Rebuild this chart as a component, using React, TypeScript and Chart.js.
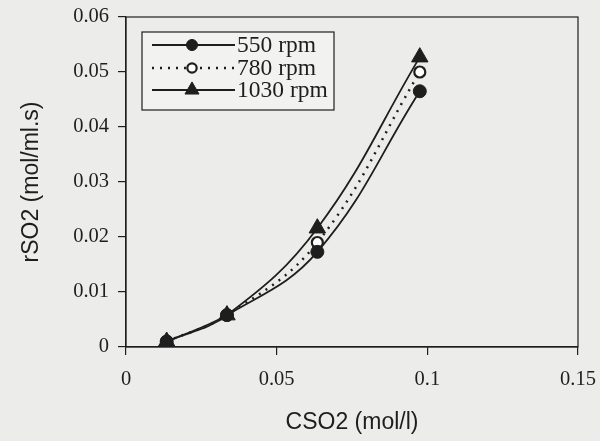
import React, { useEffect, useRef } from "react";
import { Chart, registerables } from "chart.js";

Chart.register(...registerables);

const concentration = [0.0135, 0.0335, 0.0635, 0.0975];
const rate550 = [0.001, 0.0058, 0.0173, 0.0465];
const rate780 = [0.001, 0.0058, 0.019, 0.05];
const rate1030 = [0.001, 0.0058, 0.0216, 0.0527];
const seriesNames = ["550 rpm", "780 rpm", "1030 rpm"];
const xTickLabels = ["0", "0.05", "0.1", "0.15"];
const yTickLabels = ["0", "0.01", "0.02", "0.03", "0.04", "0.05", "0.06"];

const INK = "#1e1e1e";
const BG = "#ececea";

const toPoints = (ys: number[]) => ys.map((y, i) => ({ x: concentration[i], y }));

const bgPlugin = {
  id: "bg",
  beforeDraw(chart: any) {
    const { ctx, width, height } = chart;
    ctx.save();
    ctx.fillStyle = BG;
    ctx.fillRect(0, 0, width, height);
    ctx.restore();
  },
};

const framePlugin = {
  id: "frame",
  afterDraw(chart: any) {
    const { ctx, chartArea } = chart;
    ctx.save();
    ctx.strokeStyle = INK;
    ctx.lineWidth = 1.2;
    ctx.strokeRect(chartArea.left, chartArea.top, chartArea.right - chartArea.left, chartArea.bottom - chartArea.top);
    ctx.restore();
  },
};

const legendPlugin = {
  id: "customLegend",
  afterDraw(chart: any) {
    const { ctx } = chart;
    const left = 142, top = 32, w = 192, h = 78;
    ctx.save();
    ctx.fillStyle = "#f2f2f0";
    ctx.fillRect(left, top, w, h);
    ctx.strokeStyle = INK;
    ctx.lineWidth = 1.2;
    ctx.strokeRect(left, top, w, h);
    const rows = [45, 68, 90];
    chart.data.datasets.forEach((ds: any, i: number) => {
      const y = rows[i];
      ctx.strokeStyle = INK;
      ctx.lineWidth = ds.borderWidth;
      ctx.setLineDash(ds.borderDash || []);
      ctx.beginPath();
      ctx.moveTo(152, y);
      ctx.lineTo(235, y);
      ctx.stroke();
      ctx.setLineDash([]);
      ctx.fillStyle = ds.pointBackgroundColor;
      ctx.strokeStyle = INK;
      ctx.lineWidth = ds.pointBorderWidth;
      ctx.beginPath();
      const r = ds.pointRadius * 0.85;
      if (ds.pointStyle === "triangle") {
        ctx.moveTo(192, y - r);
        ctx.lineTo(192 + r * 0.87, y + r * 0.5);
        ctx.lineTo(192 - r * 0.87, y + r * 0.5);
        ctx.closePath();
      } else {
        ctx.arc(192, y, r, 0, Math.PI * 2);
      }
      ctx.fill();
      ctx.stroke();
      ctx.fillStyle = INK;
      ctx.font = "23.5px 'Liberation Serif', 'Times New Roman', serif";
      ctx.textBaseline = "middle";
      ctx.textAlign = "left";
      ctx.fillText(ds.label, 237, y + 1);
    });
    ctx.restore();
  },
};

export default function App() {
  const ref = useRef<HTMLCanvasElement | null>(null);

  useEffect(() => {
    document.body.style.margin = "0";
    const canvas = ref.current;
    if (!canvas) return;
    const serif = { family: "'Liberation Serif', 'Times New Roman', serif", size: 20.5 };
    const sans = { family: "'Liberation Sans', Arial, sans-serif", size: 23 };
    const chart = new Chart(canvas, {
      type: "line",
      data: {
        datasets: [
          {
            label: seriesNames[0],
            data: toPoints(rate550),
            borderColor: INK,
            borderWidth: 1.8,
            pointStyle: "circle",
            pointRadius: 6.5,
            pointBackgroundColor: INK,
            pointBorderColor: INK,
            pointBorderWidth: 1,
            tension: 0.4,
          },
          {
            label: seriesNames[1],
            data: toPoints(rate780),
            borderColor: INK,
            borderWidth: 2.5,
            borderDash: [2, 6],
            pointStyle: "circle",
            pointRadius: 5.5,
            pointBackgroundColor: "#ffffff",
            pointBorderColor: INK,
            pointBorderWidth: 2.2,
            tension: 0.4,
          },
          {
            label: seriesNames[2],
            data: toPoints(rate1030),
            borderColor: INK,
            borderWidth: 1.8,
            pointStyle: "triangle",
            pointRadius: 9.5,
            pointBackgroundColor: INK,
            pointBorderColor: INK,
            pointBorderWidth: 1,
            tension: 0.4,
          },
        ] as any,
      },
      options: {
        animation: false,
        responsive: false,
        maintainAspectRatio: false,
        layout: { padding: { left: 0, top: 17, right: 22, bottom: 0 } },
        plugins: { legend: { display: false }, tooltip: { enabled: false } },
        scales: {
          x: {
            type: "linear",
            min: 0,
            max: 0.15,
            afterFit: (s: any) => {
              s.height = 94;
              s.paddingLeft = 0;
              s.paddingRight = 0;
            },
            afterBuildTicks: (s: any) => {
              s.ticks = xTickLabels.map((t) => ({ value: parseFloat(t) }));
            },
            ticks: {
              color: INK,
              font: serif,
              padding: 12,
              maxRotation: 0,
              callback: (_v: any, i: number) => xTickLabels[i],
            },
            grid: { drawOnChartArea: false, drawTicks: true, tickLength: 8, color: INK, lineWidth: 1.2 },
            border: { display: true, color: INK, width: 1.2 },
            title: { display: true, text: "CSO2 (mol/l)", color: INK, font: sans, padding: { top: 0, bottom: 5 } },
          },
          y: {
            type: "linear",
            min: 0,
            max: 0.06,
            afterFit: (s: any) => {
              s.width = 126;
              s.paddingTop = 0;
              s.paddingBottom = 0;
            },
            afterBuildTicks: (s: any) => {
              s.ticks = yTickLabels.map((t) => ({ value: parseFloat(t) }));
            },
            ticks: {
              color: INK,
              font: serif,
              padding: 9,
              callback: (_v: any, i: number) => yTickLabels[i],
            },
            grid: { drawOnChartArea: false, drawTicks: true, tickLength: 8, color: INK, lineWidth: 1.2 },
            border: { display: true, color: INK, width: 1.2 },
            title: { display: true, text: "rSO2 (mol/ml.s)", color: INK, font: sans, padding: { top: 18, bottom: 0 } },
          },
        },
      },
      plugins: [bgPlugin, framePlugin, legendPlugin],
    });
    return () => chart.destroy();
  }, []);

  return (
    <div style={{ width: 600, height: 441 }}>
      <canvas ref={ref} width={600} height={441} style={{ display: "block" }} />
    </div>
  );
}
